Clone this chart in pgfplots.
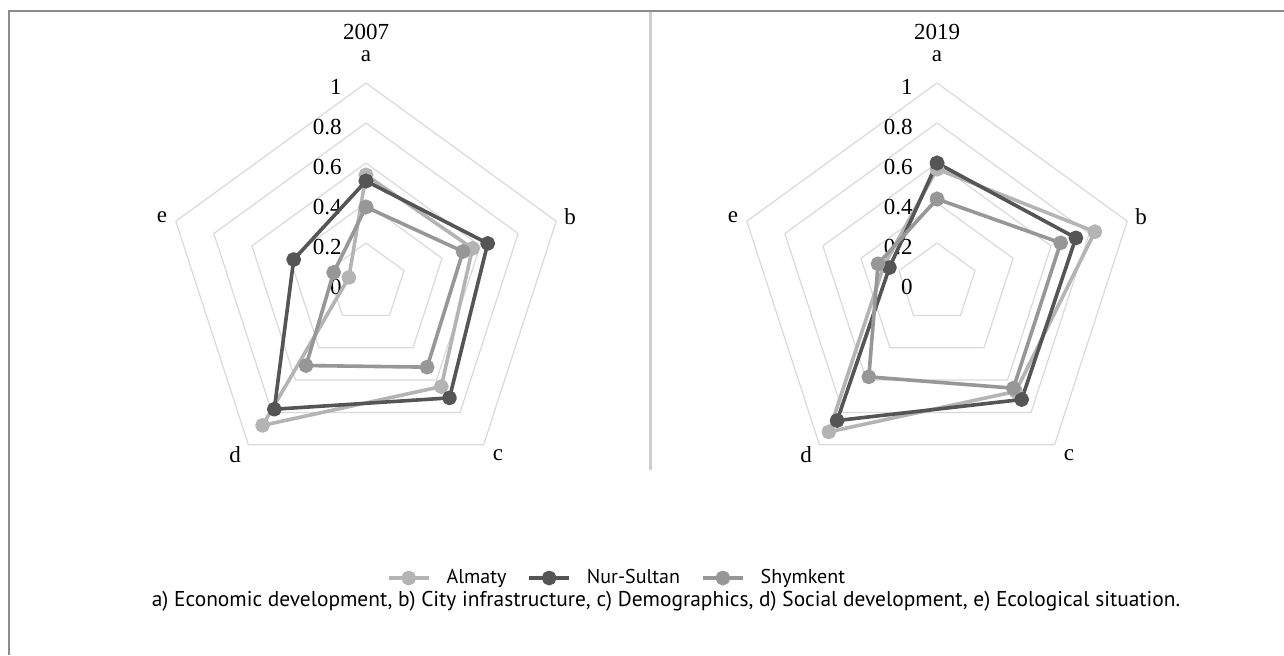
\documentclass[border=0pt]{standalone}
\usepackage{pgfplots}
\pgfplotsset{compat=1.18}
\usepackage{fontspec}
\setmainfont{Liberation Serif}
\newfontfamily\ptsans{PT Sans}
\definecolor{almaty}{HTML}{B4B4B4}
\definecolor{nursultan}{HTML}{555555}
\definecolor{shymkent}{HTML}{979797}
\definecolor{gridc}{HTML}{D9D9D9}
\definecolor{framec}{HTML}{8C8C8C}
\definecolor{divc}{HTML}{CFCFCF}

\pgfplotsset{
  radar/.style={
    x=100pt, y=100pt, anchor=origin,
    xmin=-1.1, xmax=1.1, ymin=-0.9, ymax=1.05,
    hide axis, clip=false,
    every axis plot/.append style={line join=round},
  },
  ser/.style={data cs=polar, line width=1.8pt, color=#1, mark=*, mark size=2.8pt,
              mark options={solid, fill=#1, draw=#1}},
  grd/.style={data cs=polar, gridc, line width=0.6pt, no markers, forget plot},
}
\newcommand{\lbl}{\fontsize{11.5}{12}\selectfont}
\newcommand{\radarframe}[1]{%
  \pgfplotsinvokeforeach{0.2,0.4,0.6,0.8,1}{%
    \addplot[grd] coordinates {(90,##1) (18,##1) (-54,##1) (-126,##1) (162,##1) (90,##1)};}
  \node[font=\lbl] at (axis cs:0,1.255) {#1};
  \node[font=\lbl] at (axis cs:0,1.135) {a};
  \node[font=\lbl] at (axis cs:1.02,0.33) {b};
  \node[font=\lbl] at (axis cs:0.66,-0.86) {c};
  \node[font=\lbl] at (axis cs:-0.655,-0.86) {d};
  \node[font=\lbl] at (axis cs:-1.02,0.33) {e};
  \node[font=\lbl, anchor=east, inner sep=0pt] at (axis cs:-0.12,0.98) {1};
  \node[font=\lbl, anchor=east, inner sep=0pt] at (axis cs:-0.12,0.78) {0.8};
  \node[font=\lbl, anchor=east, inner sep=0pt] at (axis cs:-0.12,0.58) {0.6};
  \node[font=\lbl, anchor=east, inner sep=0pt] at (axis cs:-0.12,0.38) {0.4};
  \node[font=\lbl, anchor=east, inner sep=0pt] at (axis cs:-0.12,0.18) {0.2};
  \node[font=\lbl, anchor=east, inner sep=0pt] at (axis cs:-0.12,-0.02) {0};
}

\begin{document}
\begin{tikzpicture}
\path[use as bounding box] (0,0) rectangle (642pt,-327.5pt);
% frame
\draw[framec, line width=1pt] (4.5pt,-327.5pt) -- (4.5pt,-5.25pt) -- (642pt,-5.25pt);
\draw[divc, line width=1.5pt] (325pt,-6pt) -- (325pt,-235pt);

\begin{axis}[radar, at={(183pt,-141.5pt)},
  legend style={at={(axis cs:1.26,-1.475)}, anchor=center, legend columns=3,
    draw=none, fill=none, font=\ptsans\fontsize{10}{12}\selectfont,
    /tikz/every odd column/.append style={column sep=6pt},
    /tikz/every even column/.append style={column sep=8.5pt}},
  legend image code/.code={\draw[mark repeat=2, mark phase=2] plot coordinates {(0pt,0pt) (10pt,0pt) (20pt,0pt)};}]
\radarframe{2007}
\addplot[ser=almaty] coordinates {(90,0.54) (18,0.56) (-54,0.64) (-126,0.88) (162,0.09) (90,0.54)};
\addlegendentry{Almaty}
\addplot[ser=nursultan] coordinates {(90,0.51) (18,0.64) (-54,0.71) (-126,0.78) (162,0.38) (90,0.51)};
\addlegendentry{Nur-Sultan}
\addplot[ser=shymkent] coordinates {(90,0.38) (18,0.51) (-54,0.52) (-126,0.51) (162,0.17) (90,0.38)};
\addlegendentry{Shymkent}
\end{axis}

\begin{axis}[radar, at={(468.5pt,-141.5pt)}]
\radarframe{2019}
\addplot[ser=almaty] coordinates {(90,0.57) (18,0.83) (-54,0.67) (-126,0.92) (162,0.28) (90,0.57)};
\addplot[ser=nursultan] coordinates {(90,0.60) (18,0.73) (-54,0.72) (-126,0.85) (162,0.25) (90,0.60)};
\addplot[ser=shymkent] coordinates {(90,0.42) (18,0.65) (-54,0.65) (-126,0.58) (162,0.31) (90,0.42)};
\end{axis}

\node[font=\ptsans\fontsize{10.7}{12}\selectfont] at (333pt,-300.5pt)
  {a) Economic development, b) City infrastructure, c) Demographics, d) Social development, e) Ecological situation.};
\end{tikzpicture}
\end{document}
